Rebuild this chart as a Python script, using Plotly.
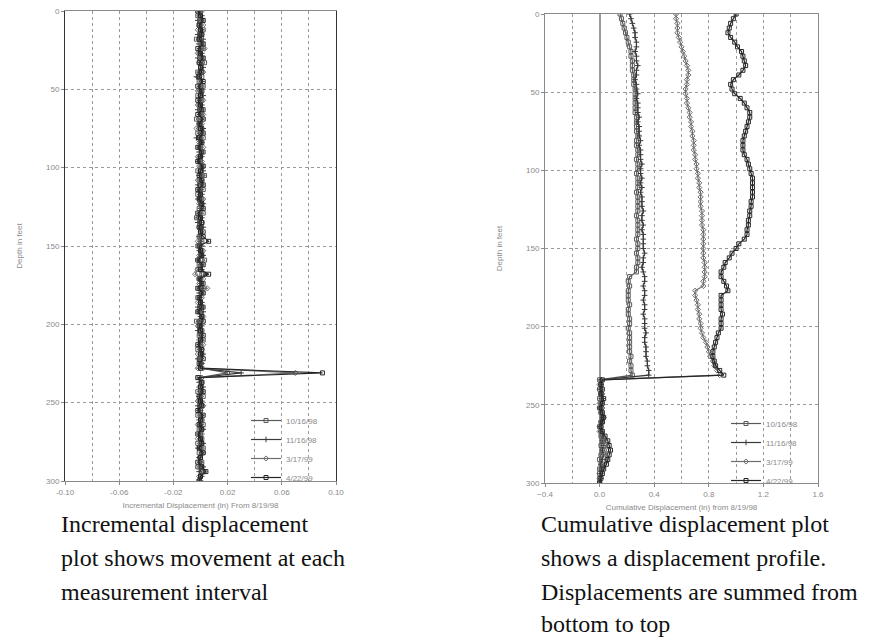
import plotly.graph_objects as go

# ---------------- data ----------------
depth_ft = list(range(0, 301, 3))  # reading depths (ft)
dates = ["10/16/98", "11/16/98", "3/17/99", "4/22/99"]

inc_1016 = [0.000, -0.002, 0.001, -0.001, 0.002, 0.000, -0.003, 0.001, 0.002, -0.001,
            0.001, 0.003, 0.000, -0.002, 0.001, -0.001, 0.002, 0.000, -0.002, 0.001,
            -0.001, 0.002, 0.001, -0.003, 0.000, 0.001, -0.002, 0.002, 0.000, -0.001,
            0.002, -0.001, 0.000, 0.001, -0.002, 0.003, -0.001, 0.000, 0.002, -0.002,
            0.001, 0.000, -0.001, 0.002, -0.003, 0.001, 0.000, 0.002, -0.001, 0.001,
            -0.002, 0.001, 0.000, 0.003, -0.001, -0.002, 0.001, 0.000, 0.002, -0.001,
            0.001, -0.002, 0.000, 0.002, -0.001, 0.001, -0.003, 0.000, 0.001, -0.001,
            0.002, 0.000, -0.002, 0.001, -0.001, 0.000, 0.001, 0.020, -0.001, 0.001,
            0.000, -0.002, 0.002, -0.001, 0.001, 0.000, -0.002, 0.001, 0.002, -0.001,
            0.000, 0.001, -0.002, 0.002, -0.001, 0.000, 0.001, -0.002, 0.001, 0.000, -0.001]
inc_1116 = [-0.001, 0.001, -0.002, 0.000, 0.001, -0.002, 0.002, -0.001, 0.000, 0.001,
            -0.002, 0.000, 0.002, -0.001, -0.003, 0.001, 0.000, -0.001, 0.002, 0.000,
            0.001, -0.002, 0.000, 0.001, -0.001, 0.002, 0.000, -0.003, 0.001, 0.000,
            -0.001, 0.001, -0.002, 0.000, 0.002, -0.001, 0.001, -0.002, 0.000, 0.001,
            -0.002, 0.002, 0.000, -0.001, 0.001, -0.002, 0.002, 0.000, -0.001, 0.000,
            0.001, -0.001, 0.002, -0.002, 0.000, 0.001, 0.004, -0.001, 0.000, 0.002,
            -0.001, 0.000, 0.001, -0.002, 0.002, 0.000, -0.001, 0.001, -0.002, 0.000,
            0.001, -0.001, 0.000, 0.002, -0.002, 0.001, -0.001, 0.030, 0.000, -0.001,
            0.002, 0.000, -0.001, 0.001, -0.002, 0.000, 0.001, -0.001, 0.000, 0.002,
            -0.001, 0.000, 0.002, -0.002, 0.001, -0.001, 0.000, 0.002, -0.001, 0.001, 0.000]
inc_0317 = [0.001, -0.001, 0.000, 0.002, -0.002, 0.001, 0.000, -0.001, 0.003, -0.002,
            0.000, -0.001, 0.001, 0.002, -0.002, 0.000, 0.001, -0.002, 0.000, 0.002,
            -0.002, 0.000, 0.002, -0.001, 0.001, -0.003, 0.001, 0.000, -0.001, 0.002,
            0.000, -0.002, 0.001, -0.001, 0.000, 0.002, -0.002, 0.001, -0.001, 0.000,
            0.002, -0.001, 0.001, 0.000, -0.002, 0.001, -0.001, 0.002, 0.000, -0.002,
            0.000, 0.002, -0.001, 0.000, 0.001, -0.002, -0.004, 0.002, -0.001, 0.005,
            0.000, 0.001, -0.002, 0.001, -0.001, 0.002, 0.000, -0.002, 0.001, 0.000,
            -0.001, 0.002, 0.001, -0.002, 0.000, 0.001, -0.002, 0.070, 0.001, 0.000,
            -0.001, 0.001, 0.000, -0.002, 0.002, -0.001, 0.000, 0.001, -0.002, 0.000,
            0.001, -0.002, 0.000, 0.001, 0.002, -0.001, 0.000, -0.002, 0.003, -0.001, 0.000]
inc_0422 = [-0.002, 0.000, 0.002, -0.001, 0.000, 0.001, -0.001, 0.002, -0.002, 0.000,
            0.002, -0.001, 0.000, 0.001, -0.001, 0.002, -0.002, 0.001, 0.000, -0.002,
            0.000, 0.001, -0.002, 0.002, -0.001, 0.000, 0.002, -0.001, 0.001, -0.002,
            0.001, 0.000, -0.002, 0.002, 0.000, -0.001, 0.001, 0.002, -0.002, 0.000,
            -0.001, 0.001, 0.002, -0.002, 0.000, 0.001, -0.001, 0.000, 0.002, 0.006,
            -0.001, 0.000, 0.001, -0.002, 0.002, 0.000, 0.006, -0.001, 0.001, -0.002,
            0.002, -0.001, 0.000, 0.001, -0.002, 0.001, 0.002, -0.001, 0.000, 0.002,
            0.000, -0.002, 0.001, 0.000, 0.002, -0.001, 0.000, 0.090, -0.002, 0.001,
            0.000, 0.002, -0.001, 0.000, 0.001, -0.002, 0.002, 0.000, -0.001, 0.001,
            -0.002, 0.000, 0.001, -0.001, 0.002, 0.000, -0.002, 0.001, 0.004, 0.000, -0.001]

cum_1016 = [0.15, 0.16, 0.17, 0.18, 0.19, 0.20, 0.21, 0.22, 0.23, 0.23,
            0.24, 0.24, 0.24, 0.25, 0.25, 0.25, 0.26, 0.26, 0.26, 0.26,
            0.26, 0.26, 0.27, 0.27, 0.27, 0.27, 0.28, 0.27, 0.27, 0.28,
            0.28, 0.27, 0.28, 0.28, 0.27, 0.28, 0.28, 0.28, 0.27, 0.28,
            0.28, 0.28, 0.28, 0.27, 0.28, 0.28, 0.28, 0.28, 0.27, 0.28,
            0.28, 0.27, 0.28, 0.28, 0.27, 0.27, 0.22, 0.21, 0.22, 0.21,
            0.21, 0.21, 0.22, 0.21, 0.21, 0.22, 0.22, 0.21, 0.22, 0.22,
            0.22, 0.22, 0.22, 0.23, 0.22, 0.23, 0.23, 0.24, 0.00, 0.01,
            0.00, 0.01, 0.00, 0.01, 0.00, 0.01, 0.02, 0.01, 0.00, 0.01,
            0.01, 0.02, 0.01, 0.02, 0.01, 0.00, 0.01, 0.00, 0.00, 0.00, 0.00]
cum_1116 = [0.22, 0.23, 0.24, 0.25, 0.26, 0.26, 0.27, 0.27, 0.26, 0.27,
            0.27, 0.28, 0.27, 0.27, 0.26, 0.27, 0.27, 0.28, 0.27, 0.28,
            0.28, 0.28, 0.29, 0.28, 0.29, 0.29, 0.29, 0.30, 0.29, 0.30,
            0.30, 0.30, 0.31, 0.30, 0.30, 0.31, 0.30, 0.31, 0.30, 0.31,
            0.31, 0.31, 0.32, 0.31, 0.31, 0.32, 0.31, 0.32, 0.32, 0.32,
            0.32, 0.33, 0.32, 0.32, 0.31, 0.32, 0.33, 0.33, 0.32, 0.33,
            0.33, 0.32, 0.33, 0.33, 0.32, 0.33, 0.33, 0.33, 0.34, 0.33,
            0.33, 0.34, 0.34, 0.34, 0.35, 0.35, 0.36, 0.36, 0.01, 0.01,
            0.00, 0.01, 0.02, 0.01, 0.00, 0.01, 0.02, 0.01, 0.00, 0.01,
            0.02, 0.02, 0.03, 0.02, 0.03, 0.02, 0.01, 0.01, 0.00, 0.01, 0.00]
cum_0317 = [0.56, 0.56, 0.57, 0.57, 0.57, 0.58, 0.59, 0.60, 0.61, 0.62,
            0.63, 0.64, 0.65, 0.65, 0.64, 0.64, 0.63, 0.63, 0.64, 0.64,
            0.65, 0.66, 0.66, 0.67, 0.67, 0.68, 0.68, 0.69, 0.69, 0.69,
            0.70, 0.70, 0.71, 0.71, 0.72, 0.72, 0.73, 0.73, 0.74, 0.74,
            0.74, 0.74, 0.75, 0.75, 0.75, 0.75, 0.76, 0.76, 0.76, 0.76,
            0.76, 0.76, 0.76, 0.77, 0.77, 0.77, 0.77, 0.76, 0.76, 0.70,
            0.70, 0.71, 0.72, 0.72, 0.73, 0.73, 0.74, 0.74, 0.75, 0.76,
            0.78, 0.79, 0.80, 0.81, 0.83, 0.84, 0.86, 0.88, 0.01, 0.00,
            0.01, 0.02, 0.01, 0.00, 0.02, 0.01, 0.03, 0.02, 0.01, 0.00,
            0.02, 0.03, 0.04, 0.05, 0.04, 0.05, 0.03, 0.02, 0.01, 0.00, 0.00]
cum_0422 = [1.00, 0.98, 0.96, 0.95, 0.94, 0.96, 0.99, 1.01, 1.04, 1.05,
            1.06, 1.07, 1.05, 1.02, 0.98, 0.96, 0.97, 0.99, 1.03, 1.06,
            1.08, 1.10, 1.10, 1.09, 1.08, 1.07, 1.06, 1.05, 1.05, 1.05,
            1.06, 1.08, 1.09, 1.10, 1.11, 1.12, 1.12, 1.12, 1.12, 1.12,
            1.11, 1.11, 1.10, 1.10, 1.09, 1.09, 1.08, 1.08, 1.06, 1.02,
            1.00, 0.97, 0.95, 0.92, 0.91, 0.89, 0.89, 0.91, 0.93, 0.94,
            0.89, 0.89, 0.89, 0.89, 0.90, 0.89, 0.89, 0.89, 0.87, 0.86,
            0.85, 0.84, 0.83, 0.83, 0.84, 0.85, 0.88, 0.91, 0.02, 0.01,
            0.02, 0.01, 0.03, 0.02, 0.01, 0.02, 0.03, 0.02, 0.01, 0.02,
            0.04, 0.06, 0.07, 0.08, 0.07, 0.06, 0.05, 0.03, 0.02, 0.01, 0.00]

inc_series = [inc_1016, inc_1116, inc_0317, inc_0422]
cum_series = [cum_1016, cum_1116, cum_0317, cum_0422]
for s in inc_series + cum_series:
    assert len(s) == len(depth_ft), len(s)

inc_ticks = [-0.10, -0.06, -0.02, 0.02, 0.06, 0.10]
inc_ticktext = ["-0.10", "-0.06", "-0.02", "0.02", "0.06", "0.10"]
cum_ticks = [-0.4, 0.0, 0.4, 0.8, 1.2, 1.6]
depth_ticks = [0, 50, 100, 150, 200, 250, 300]

caption_left = ["Incremental displacement", "plot shows movement at each",
                "measurement interval"]
caption_right = ["Cumulative displacement plot", "shows a displacement profile.",
                 "Displacements are summed from", "bottom to top"]

# ---------------- style ----------------
line_cols = ["#5a5a5a", "#3a3a3a", "#6e6e6e", "#262626"]
symbols = ["square-open", "cross-thin-open", "diamond-open", "square-open"]
tick_font = dict(family="Liberation Sans", size=8, color="#8a8a8a")
grid = dict(showgrid=True, gridcolor="#9a9a9a", griddash="dot", gridwidth=1)

fig = go.Figure()
for name, vals, col, sym in zip(dates, inc_series, line_cols, symbols):
    fig.add_trace(go.Scatter(x=vals, y=depth_ft, mode="lines+markers", name=name,
                             line=dict(color=col, width=1.2),
                             marker=dict(symbol=sym, size=4, color=col,
                                         line=dict(color=col, width=1)),
                             xaxis="x", yaxis="y", legend="legend"))
for name, vals, col, sym in zip(dates, cum_series, line_cols, symbols):
    fig.add_trace(go.Scatter(x=vals, y=depth_ft, mode="lines+markers", name=name,
                             line=dict(color=col, width=1.2),
                             marker=dict(symbol=sym, size=4, color=col,
                                         line=dict(color=col, width=1)),
                             xaxis="x2", yaxis="y2", legend="legend2"))

W, H = 892, 638
axis_common = dict(showline=True, mirror=True, linecolor="#8a8a8a", linewidth=1,
                   ticks="outside", ticklen=3, tickcolor="#8a8a8a", tickfont=tick_font,
                   zeroline=False, automargin=False)

fig.update_layout(
    width=W, height=H, margin=dict(l=0, r=0, t=0, b=0, autoexpand=False),
    paper_bgcolor="white", plot_bgcolor="white",
    font=dict(family="Liberation Sans", size=8, color="#8a8a8a"),
    xaxis=dict(domain=[65 / W, 336 / W], anchor="y", range=[-0.10, 0.10],
               tickmode="array", tickvals=inc_ticks, ticktext=inc_ticktext,
               minor=dict(dtick=0.02, tick0=0, ticks="", **grid),
               title=dict(text="Incremental Displacement (in) From 8/19/98",
                          font=dict(size=8, color="#8a8a8a"), standoff=6),
               **grid, **axis_common),
    yaxis=dict(domain=[1 - 481 / H, 1 - 11 / H], anchor="x", range=[300, 0],
               tickvals=depth_ticks,
               title=dict(text="Depth in feet", font=dict(size=8, color="#8a8a8a"),
                          standoff=22),
               linecolor="#333", **{k: v for k, v in grid.items()},
               **{k: v for k, v in axis_common.items() if k != "linecolor"}),
    xaxis2=dict(domain=[545 / W, 818 / W], anchor="y2", range=[-0.4, 1.6],
                tickmode="array", tickvals=cum_ticks, tickformat=".1f",
                minor=dict(dtick=0.2, tick0=0, ticks="", **grid),
                title=dict(text="Cumulative Displacement (in) from 8/19/98",
                           font=dict(size=8, color="#8a8a8a"), standoff=6),
                **grid, **axis_common),
    yaxis2=dict(domain=[1 - 483 / H, 1 - 14 / H], anchor="x2", range=[300, 0],
                tickvals=depth_ticks,
                title=dict(text="Depth in feet", font=dict(size=8, color="#8a8a8a"),
                           standoff=22),
                **grid, **axis_common),
    legend=dict(x=246 / W, y=1 - 406 / H, xanchor="left", yanchor="top",
                bgcolor="rgba(0,0,0,0)", font=dict(size=8, color="#8a8a8a"),
                itemwidth=30, tracegroupgap=0),
    legend2=dict(x=726 / W, y=1 - 409 / H, xanchor="left", yanchor="top",
                 bgcolor="rgba(0,0,0,0)", font=dict(size=8, color="#8a8a8a"),
                 itemwidth=30, tracegroupgap=0),
)
fig.layout.xaxis2.zeroline = True
fig.layout.xaxis2.zerolinecolor = "#9a9a9a"
fig.layout.xaxis2.zerolinewidth = 1.5

line_y = [524, 558, 592, 624]
for i, txt in enumerate(caption_left):
    fig.add_annotation(text=txt, xref="paper", yref="paper", x=59 / W, y=1 - line_y[i] / H,
                       xanchor="left", yanchor="middle", showarrow=False,
                       font=dict(family="Liberation Serif", size=24, color="#111"))
for i, txt in enumerate(caption_right):
    fig.add_annotation(text=txt, xref="paper", yref="paper", x=539 / W, y=1 - line_y[i] / H,
                       xanchor="left", yanchor="middle", showarrow=False,
                       font=dict(family="Liberation Serif", size=24, color="#111"))

fig.write_html("out.html", config={"displayModeBar": False},
               post_script="document.body.style.margin='0';document.body.style.overflow='hidden';")
